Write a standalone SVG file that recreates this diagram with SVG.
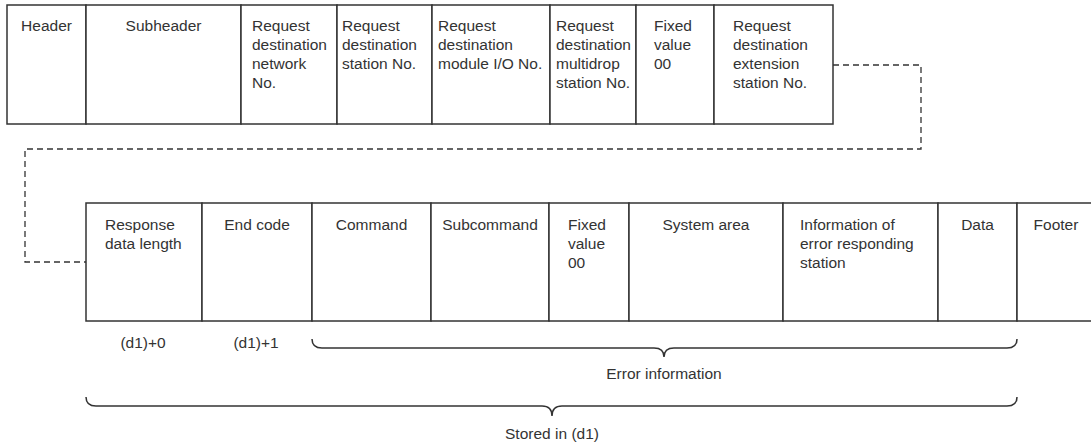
<svg xmlns="http://www.w3.org/2000/svg" width="1091" height="445" viewBox="0 0 1091 445">
<style>
.cell{fill:#fff;stroke:#333;stroke-width:1.5}
.t{font-family:"Liberation Sans",Arial,sans-serif;font-size:15.5px;fill:#333}
.c{text-anchor:middle}
.dash{fill:none;stroke:#333;stroke-width:1.3;stroke-dasharray:6 4}
.brace{fill:none;stroke:#333;stroke-width:1.5}
</style>
<rect width="1091" height="445" fill="#fff"/>
<g id="connectors">
<path class="dash" d="M833,65 H921 V149 H25 V262 H86"/>
</g>
<g id="top-row">
<g id="header"><rect class="cell" x="7" y="5" width="79" height="119"/><text class="t c" x="46.5" y="31">Header</text></g>
<g id="subheader"><rect class="cell" x="86" y="5" width="155" height="119"/><text class="t c" x="163.5" y="31">Subheader</text></g>
<g id="req-network"><rect class="cell" x="241" y="5" width="96" height="119"/><text class="t" x="252" y="31">Request<tspan x="252" dy="19">destination</tspan><tspan x="252" dy="19">network</tspan><tspan x="252" dy="19">No.</tspan></text></g>
<g id="req-station"><rect class="cell" x="337" y="5" width="95" height="119"/><text class="t" x="342" y="31">Request<tspan x="342" dy="19">destination</tspan><tspan x="342" dy="19">station No.</tspan></text></g>
<g id="req-module"><rect class="cell" x="432" y="5" width="118" height="119"/><text class="t" x="438" y="31">Request<tspan x="438" dy="19">destination</tspan><tspan x="438" dy="19">module I/O No.</tspan></text></g>
<g id="req-multidrop"><rect class="cell" x="550" y="5" width="86" height="119"/><text class="t" x="556" y="31">Request<tspan x="556" dy="19">destination</tspan><tspan x="556" dy="19">multidrop</tspan><tspan x="556" dy="19">station No.</tspan></text></g>
<g id="fixed-top"><rect class="cell" x="636" y="5" width="78" height="119"/><text class="t" x="654" y="31">Fixed<tspan x="654" dy="19">value</tspan><tspan x="654" dy="19">00</tspan></text></g>
<g id="req-extension"><rect class="cell" x="714" y="5" width="119" height="119"/><text class="t" x="733" y="31">Request<tspan x="733" dy="19">destination</tspan><tspan x="733" dy="19">extension</tspan><tspan x="733" dy="19">station No.</tspan></text></g>
</g>
<g id="bottom-row">
<g id="resp-length"><rect class="cell" x="86" y="203" width="116" height="118"/><text class="t" x="105" y="230">Response<tspan x="105" dy="19">data length</tspan></text></g>
<g id="end-code"><rect class="cell" x="202" y="203" width="110" height="118"/><text class="t c" x="257" y="230">End code</text></g>
<g id="command"><rect class="cell" x="312" y="203" width="119" height="118"/><text class="t c" x="371.5" y="230">Command</text></g>
<g id="subcommand"><rect class="cell" x="431" y="203" width="118" height="118"/><text class="t c" x="490" y="230">Subcommand</text></g>
<g id="fixed-bottom"><rect class="cell" x="549" y="203" width="80" height="118"/><text class="t" x="568" y="230">Fixed<tspan x="568" dy="19">value</tspan><tspan x="568" dy="19">00</tspan></text></g>
<g id="system-area"><rect class="cell" x="629" y="203" width="154" height="118"/><text class="t c" x="706" y="230">System area</text></g>
<g id="error-station"><rect class="cell" x="783" y="203" width="155" height="118"/><text class="t" x="800" y="230">Information of<tspan x="800" dy="19">error responding</tspan><tspan x="800" dy="19">station</tspan></text></g>
<g id="data"><rect class="cell" x="938" y="203" width="79" height="118"/><text class="t c" x="977.5" y="230">Data</text></g>
<g id="footer"><rect class="cell" x="1017" y="203" width="80" height="118"/><text class="t c" x="1056" y="230">Footer</text></g>
</g>
<g id="labels">
<text class="t c" x="143" y="348">(d1)+0</text>
<text class="t c" x="256" y="348">(d1)+1</text>
<path class="brace" d="M312,339 Q312,348 322,348 H654 Q664,348 664,357 Q664,348 674,348 H1007 Q1017,348 1017,339"/>
<text class="t c" x="664" y="379">Error information</text>
<path class="brace" d="M86,397 Q86,406 96,406 H542 Q552,406 552,416 Q552,406 562,406 H1007 Q1017,406 1017,397"/>
<text class="t c" x="552" y="439">Stored in (d1)</text>
</g>
</svg>
